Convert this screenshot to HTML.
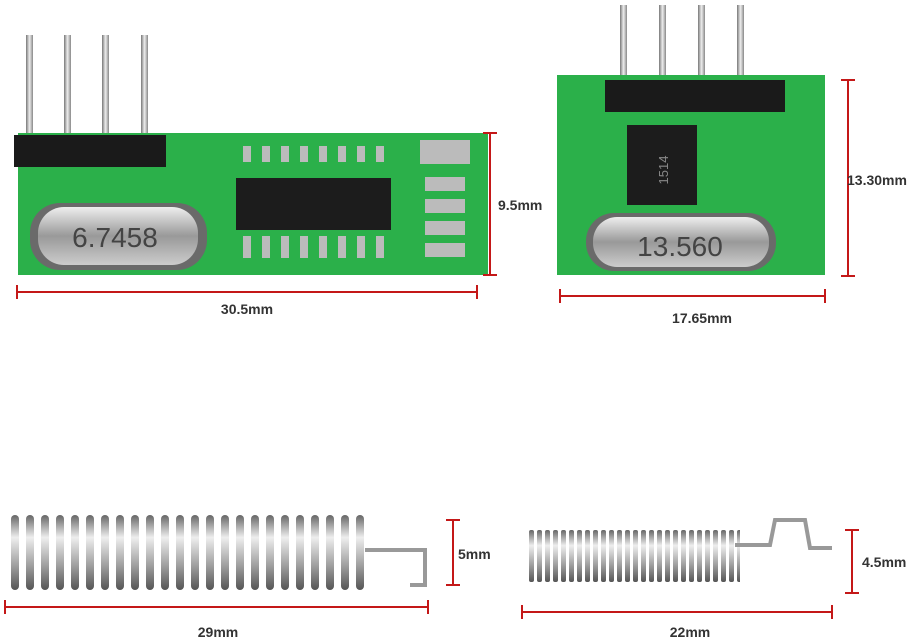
<!DOCTYPE html>
<html><head><meta charset="utf-8"><style>
body{margin:0;background:#fff;width:920px;height:643px;overflow:hidden}
svg{display:block}
text{font-family:"Liberation Sans",sans-serif}
</style></head><body>
<svg width="920" height="643" viewBox="0 0 920 643" xmlns="http://www.w3.org/2000/svg">
<defs>
<linearGradient id="pin" x1="0" x2="1"><stop offset="0" stop-color="#777"/><stop offset=".5" stop-color="#eee"/><stop offset="1" stop-color="#888"/></linearGradient>
<linearGradient id="xt" x1="0" y1="0" x2="0" y2="1"><stop offset="0" stop-color="#eee"/><stop offset=".5" stop-color="#999"/><stop offset="1" stop-color="#ccc"/></linearGradient>
<linearGradient id="sp" x1="0" y1="0" x2="0" y2="1"><stop offset="0" stop-color="#666"/><stop offset=".3" stop-color="#eee"/><stop offset=".7" stop-color="#999"/><stop offset="1" stop-color="#555"/></linearGradient>
<pattern id="coil" x="8" y="515" width="15" height="75" patternUnits="userSpaceOnUse"><rect width="15" height="75" fill="#fff"/><rect x="3" y="0" width="8" height="75" rx="4" fill="url(#sp)"/></pattern>
<pattern id="coil2" x="528" y="530" width="8" height="52" patternUnits="userSpaceOnUse"><rect width="8" height="52" fill="#fff"/><rect x="1" y="0" width="5" height="52" rx="2" fill="url(#sp)"/></pattern>
</defs>
<!-- Left PCB -->
<g>
<rect x="26" y="35" width="7" height="105" fill="url(#pin)"/>
<rect x="64" y="35" width="7" height="105" fill="url(#pin)"/>
<rect x="102" y="35" width="7" height="105" fill="url(#pin)"/>
<rect x="141" y="35" width="7" height="105" fill="url(#pin)"/>
<rect x="18" y="133" width="470" height="142" fill="#2bb04a"/>
<rect x="14" y="135" width="152" height="32" fill="#1a1a1a"/>
<rect x="236" y="178" width="155" height="52" fill="#1c1c1c"/>
<g fill="#bbb">
<rect x="243" y="146" width="8" height="16"/><rect x="262" y="146" width="8" height="16"/><rect x="281" y="146" width="8" height="16"/><rect x="300" y="146" width="8" height="16"/><rect x="319" y="146" width="8" height="16"/><rect x="338" y="146" width="8" height="16"/><rect x="357" y="146" width="8" height="16"/><rect x="376" y="146" width="8" height="16"/>
<rect x="243" y="236" width="8" height="22"/><rect x="262" y="236" width="8" height="22"/><rect x="281" y="236" width="8" height="22"/><rect x="300" y="236" width="8" height="22"/><rect x="319" y="236" width="8" height="22"/><rect x="338" y="236" width="8" height="22"/><rect x="357" y="236" width="8" height="22"/><rect x="376" y="236" width="8" height="22"/>
<rect x="420" y="140" width="50" height="24"/>
<rect x="425" y="177" width="40" height="14"/><rect x="425" y="199" width="40" height="14"/><rect x="425" y="221" width="40" height="14"/><rect x="425" y="243" width="40" height="14"/>
</g>
<rect x="30" y="203" width="177" height="67" rx="30" fill="#6a6a6a"/>
<rect x="38" y="207" width="160" height="58" rx="26" fill="url(#xt)"/>
<text x="115" y="247" font-size="28" fill="#444" text-anchor="middle">6.7458</text>
</g>
<!-- Right PCB -->
<g>
<rect x="620" y="5" width="7" height="80" fill="url(#pin)"/>
<rect x="659" y="5" width="7" height="80" fill="url(#pin)"/>
<rect x="698" y="5" width="7" height="80" fill="url(#pin)"/>
<rect x="737" y="5" width="7" height="80" fill="url(#pin)"/>
<rect x="557" y="75" width="268" height="200" fill="#2bb04a"/>
<rect x="605" y="80" width="180" height="32" fill="#1a1a1a"/>
<rect x="627" y="125" width="70" height="80" fill="#1c1c1c"/>
<text x="660" y="178" font-size="13" fill="#888" text-anchor="middle" transform="rotate(-90 660 170)">1514</text>
<rect x="586" y="213" width="190" height="58" rx="28" fill="#6a6a6a"/>
<rect x="593" y="217" width="176" height="50" rx="24" fill="url(#xt)"/>
<text x="680" y="256" font-size="28" fill="#444" text-anchor="middle">13.560</text>
</g>
<!-- Springs -->
<rect x="8" y="515" width="362" height="75" fill="url(#coil)"/>
<path d="M365 550 H425 V585 H410" fill="none" stroke="#999" stroke-width="4"/>
<rect x="528" y="530" width="212" height="52" fill="url(#coil2)"/>
<path d="M735 545 H770 L775 520 H805 L810 548 H832" fill="none" stroke="#999" stroke-width="4"/>
<!-- Dimensions -->
<g stroke="#c41818" stroke-width="2">
<line x1="17" y1="292" x2="477" y2="292"/><line x1="17" y1="285" x2="17" y2="299"/><line x1="477" y1="285" x2="477" y2="299"/>
<line x1="490" y1="133" x2="490" y2="275"/><line x1="483" y1="133" x2="497" y2="133"/><line x1="483" y1="275" x2="497" y2="275"/>
<line x1="560" y1="296" x2="825" y2="296"/><line x1="560" y1="289" x2="560" y2="303"/><line x1="825" y1="289" x2="825" y2="303"/>
<line x1="848" y1="80" x2="848" y2="276"/><line x1="841" y1="80" x2="855" y2="80"/><line x1="841" y1="276" x2="855" y2="276"/>
<line x1="453" y1="520" x2="453" y2="585"/><line x1="446" y1="520" x2="460" y2="520"/><line x1="446" y1="585" x2="460" y2="585"/>
<line x1="5" y1="607" x2="428" y2="607"/><line x1="5" y1="600" x2="5" y2="614"/><line x1="428" y1="600" x2="428" y2="614"/>
<line x1="852" y1="530" x2="852" y2="593"/><line x1="845" y1="530" x2="859" y2="530"/><line x1="845" y1="593" x2="859" y2="593"/>
<line x1="522" y1="612" x2="832" y2="612"/><line x1="522" y1="605" x2="522" y2="619"/><line x1="832" y1="605" x2="832" y2="619"/>
</g>
<g font-size="14" font-weight="bold" fill="#333">
<text x="247" y="314" text-anchor="middle">30.5mm</text>
<text x="498" y="210">9.5mm</text>
<text x="702" y="323" text-anchor="middle">17.65mm</text>
<text x="847" y="185">13.30mm</text>
<text x="458" y="559">5mm</text>
<text x="218" y="637" text-anchor="middle">29mm</text>
<text x="862" y="567">4.5mm</text>
<text x="690" y="637" text-anchor="middle">22mm</text>
</g>
</svg>
</body></html>
